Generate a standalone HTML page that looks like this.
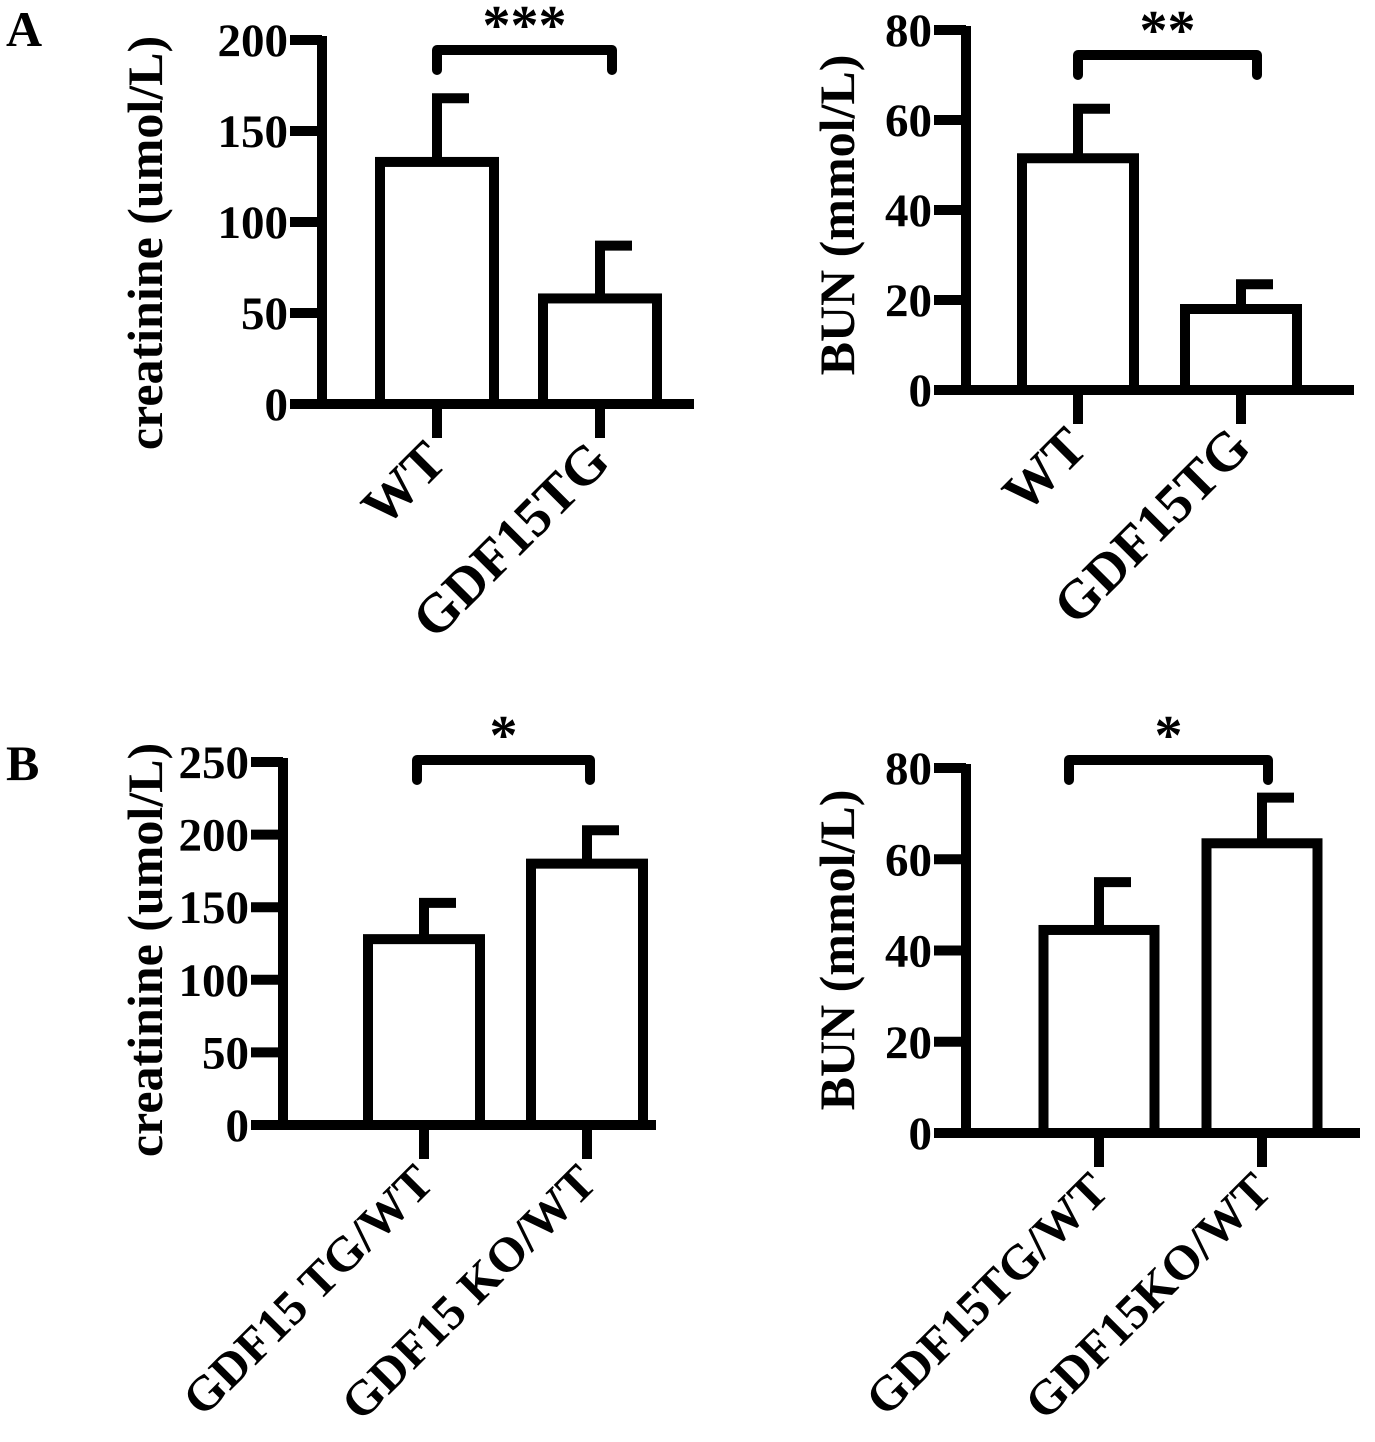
<!DOCTYPE html>
<html><head><meta charset="utf-8">
<style>
html,body{margin:0;padding:0;background:#fff;}
svg{display:block;}
text{font-family:"Liberation Serif",serif;font-weight:bold;fill:#000;}
</style></head>
<body>
<svg id="fig" width="1375" height="1442" viewBox="0 0 1375 1442">
<text x="6" y="46" font-size="50">A</text>
<text x="6" y="780" font-size="50">B</text>
</svg>
<script>
// Panel A-left: creatinine
const aLeftCategories = ["WT", "GDF15TG"];
const aLeftMeans = [133, 58];
const aLeftErrors = [35, 29];
const aLeftTicks = [0, 50, 100, 150, 200];
const aLeftSig = "***";
// Panel A-right: BUN
const aRightCategories = ["WT", "GDF15TG"];
const aRightMeans = [51.5, 18];
const aRightErrors = [11, 5.5];
const aRightTicks = [0, 20, 40, 60, 80];
const aRightSig = "**";
// Panel B-left: creatinine
const bLeftCategories = ["GDF15 TG/WT", "GDF15 KO/WT"];
const bLeftMeans = [128, 180];
const bLeftErrors = [25, 23];
const bLeftTicks = [0, 50, 100, 150, 200, 250];
const bLeftSig = "*";
// Panel B-right: BUN
const bRightCategories = ["GDF15TG/WT", "GDF15KO/WT"];
const bRightMeans = [44.5, 63.5];
const bRightErrors = [10.5, 10];
const bRightTicks = [0, 20, 40, 60, 80];
const bRightSig = "*";

const NS = "http://www.w3.org/2000/svg";
const svg = document.getElementById("fig");
function mk(tag, attrs, parent) {
  const e = document.createElementNS(NS, tag);
  for (const k in attrs) e.setAttribute(k, attrs[k]);
  (parent || svg).appendChild(e);
  return e;
}

function panel(g, cats, means, errs, ticks, sig, title) {
  const grp = mk("g", {});
  
  
  const max = ticks[ticks.length - 1];
  const y = v => g.y0 - (v / max) * (g.y0 - g.yTop);
  const sw = 10;
  cats.forEach((c, i) => {
    const cx = g.cx[i];
    const r = mk("rect", {x: cx - g.bw / 2, y: y(means[i]), width: g.bw, height: g.y0 - y(means[i]), fill: "#fff", stroke: "#000", "stroke-width": sw}, grp);
    
    
    const ex = cx;
    const e1 = mk("line", {x1: ex, x2: ex, y1: y(means[i]), y2: y(means[i] + errs[i]), stroke: "#000", "stroke-width": sw}, grp);
    
    
    const e2 = mk("line", {x1: ex - 5, x2: ex + 32, y1: y(means[i] + errs[i]), y2: y(means[i] + errs[i]), stroke: "#000", "stroke-width": sw}, grp);
    
    
    const xt = mk("line", {x1: cx, x2: cx, y1: g.y0, y2: g.y0 + 34, stroke: "#000", "stroke-width": sw}, grp);
    
    
    const lx = cx + 12, ly = g.y0 + 60;
    const t = mk("text", {x: lx, y: ly, "font-size": g.lfs, "text-anchor": "end", transform: `rotate(-45 ${lx} ${ly})`}, grp);
    t.textContent = c;
    
    
  });
  const ya = mk("line", {x1: g.x0, x2: g.x0, y1: g.yTop - 4, y2: g.y0 + 5, stroke: "#000", "stroke-width": sw}, grp);
  
  
  const xa = mk("line", {x1: g.x0 - 5, x2: g.xEnd, y1: g.y0, y2: g.y0, stroke: "#000", "stroke-width": sw}, grp);
  
  
  ticks.forEach(v => {
    const tl = mk("line", {x1: g.x0 - 32, x2: g.x0, y1: y(v), y2: y(v), stroke: "#000", "stroke-width": sw}, grp);
    
    
    const tt = mk("text", {x: g.x0 - 34, y: y(v) + 16, "font-size": 47, "text-anchor": "end"}, grp);
    tt.textContent = v;
    
    
  });
  const tx = g.titleX, ty = g.titleY;
  const yt = mk("text", {x: tx, y: ty, "font-size": 50, "text-anchor": "middle", transform: `rotate(-90 ${tx} ${ty})`}, grp);
  yt.textContent = title;
  
  
  const br = mk("path", {d: `M${g.br[0]} ${g.brY + 20} V${g.brY} H${g.br[1]} V${g.brY + 20}`, fill: "none", stroke: "#000", "stroke-width": sw, "stroke-linejoin": "round", "stroke-linecap": "round"}, grp);
  
  
  const st = mk("text", {x: (g.br[0] + g.br[1]) / 2, y: g.brY - 6, "font-size": 56, "text-anchor": "middle"}, grp);
  st.textContent = sig;
  
  
}

panel({name: "chart-a-creatinine", x0: 322, xEnd: 694, y0: 404, yTop: 40, cx: [437, 600], bw: 114, titleX: 162, titleY: 243, lfs: 55, br: [437, 612], brY: 50},
  aLeftCategories, aLeftMeans, aLeftErrors, aLeftTicks, aLeftSig, "creatinine (umol/L)");
panel({name: "chart-a-bun", x0: 966, xEnd: 1354, y0: 390, yTop: 30, cx: [1078, 1241], bw: 112, titleX: 854, titleY: 215, lfs: 55, br: [1078, 1257], brY: 55},
  aRightCategories, aRightMeans, aRightErrors, aRightTicks, aRightSig, "BUN (mmol/L)");
panel({name: "chart-b-creatinine", x0: 283, xEnd: 656, y0: 1125, yTop: 762, cx: [424, 587], bw: 112, titleX: 162, titleY: 950, lfs: 49, br: [417, 590], brY: 760},
  bLeftCategories, bLeftMeans, bLeftErrors, bLeftTicks, bLeftSig, "creatinine (umol/L)");
panel({name: "chart-b-bun", x0: 966, xEnd: 1360, y0: 1133, yTop: 768, cx: [1099, 1262], bw: 111, titleX: 854, titleY: 950, lfs: 49, br: [1069, 1268], brY: 760},
  bRightCategories, bRightMeans, bRightErrors, bRightTicks, bRightSig, "BUN (mmol/L)");
</script>
</body></html>
